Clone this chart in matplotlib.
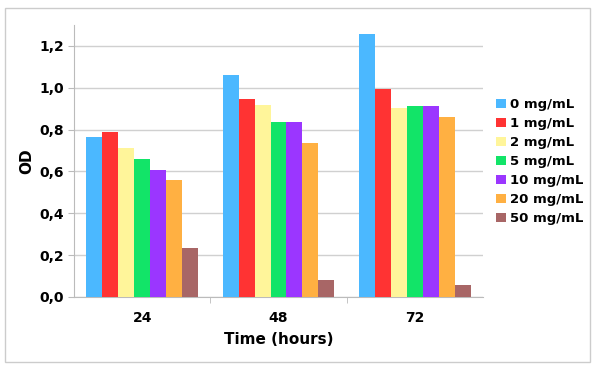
import matplotlib
matplotlib.use("Agg")
import matplotlib.pyplot as plt
import numpy as np
from matplotlib.patches import Rectangle
from matplotlib.ticker import FixedLocator, FuncFormatter

categories = ["24", "48", "72"]
series_labels = ["0 mg/mL", "1 mg/mL", "2 mg/mL", "5 mg/mL", "10 mg/mL", "20 mg/mL", "50 mg/mL"]
values = {
    "0 mg/mL":  [0.764, 1.061, 1.257],
    "1 mg/mL":  [0.790, 0.948, 0.995],
    "2 mg/mL":  [0.710, 0.918, 0.905],
    "5 mg/mL":  [0.660, 0.835, 0.912],
    "10 mg/mL": [0.605, 0.835, 0.912],
    "20 mg/mL": [0.558, 0.735, 0.862],
    "50 mg/mL": [0.236, 0.080, 0.055],
}
colors = ["#4BB8FF", "#FF3333", "#FFF59A", "#12E468", "#9B36FF", "#FFB042", "#A86666"]
yticks = [0.0, 0.2, 0.4, 0.6, 0.8, 1.0, 1.2]

plt.rcParams['font.family'] = ['DejaVu Sans']
fig = plt.figure(figsize=(5.98, 3.73), dpi=100)
fig.patches.append(Rectangle((5/598, 1 - 362/373), 585/598, 354/373, transform=fig.transFigure,
                             fill=False, edgecolor="#CCCCCC", linewidth=1.0))
ax = fig.add_axes([74/598, 76/373, 409/598, 272/373])

n = len(series_labels)
bw = 0.117
x = np.arange(len(categories))
for i, (lab, c) in enumerate(zip(series_labels, colors)):
    offs = (i - (n - 1) / 2) * bw
    ax.bar(x + offs, values[lab], width=bw, color=c, label=lab, zorder=3, linewidth=0)

ax.set_xlim(-0.5, len(categories) - 0.5)
ax.set_ylim(0, 1.3)
ax.set_yticks(yticks)
ax.yaxis.set_major_formatter(FuncFormatter(lambda v, p: f"{v:.1f}".replace(".", ",")))
ax.set_xticks(x)
ax.set_xticklabels(categories)
ax.xaxis.set_minor_locator(FixedLocator([0.5, 1.5]))
ax.tick_params(axis='x', which='major', length=0, pad=10, labelsize=10)
ax.tick_params(axis='x', which='minor', length=4, color="#BBBBBB")
ax.tick_params(axis='y', length=4, color="#BBBBBB", labelsize=10, pad=3)
for lbl in ax.get_xticklabels() + ax.get_yticklabels():
    lbl.set_fontweight('bold')
ax.grid(axis='y', color="#D0D0D0", linewidth=1.0, zorder=0)
for s in ['top', 'right']:
    ax.spines[s].set_visible(False)
for s in ['left', 'bottom']:
    ax.spines[s].set_color("#BBBBBB")
ax.set_xlabel("Time (hours)", fontsize=11, fontweight='bold', labelpad=5)
ax.set_ylabel("OD", fontsize=11, fontweight='bold', labelpad=4)

leg = ax.legend(loc='upper left', bbox_to_anchor=(1.02, 0.75), frameon=False,
                prop={'weight': 'bold', 'size': 9.5}, handlelength=0.7, handleheight=0.7,
                handletextpad=0.3, labelspacing=0.45, borderaxespad=0)
fig.savefig("out.png", dpi=100)
